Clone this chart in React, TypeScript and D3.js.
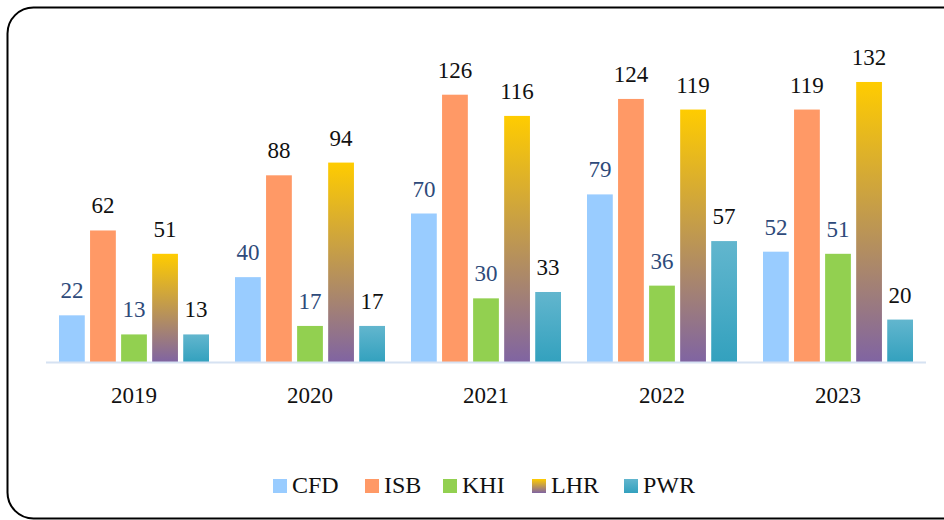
import React from "react";
import * as d3 from "d3";

const years = ["2019", "2020", "2021", "2022", "2023"];
const seriesNames = ["CFD", "ISB", "KHI", "LHR", "PWR"];
const cfd = [22, 40, 70, 79, 52];
const isb = [62, 88, 126, 124, 119];
const khi = [13, 17, 30, 36, 51];
const lhr = [51, 94, 116, 119, 132];
const pwr = [13, 17, 33, 57, 20];

const W = 944;
const H = 520;
const FONT = "Liberation Serif";

export default function App() {
  const values = [cfd, isb, khi, lhr, pwr];
  const fills = ["#99CCFF", "#FF9966", "#92D050", "url(#gLHR)", "url(#gPWR)"];
  const labelColors = ["#2E4A7A", "#111", "#2E4A7A", "#111", "#111"];
  const x0 = d3.scaleBand().domain(years).range([46, 926]).paddingInner(0).paddingOuter(0);
  const x1 = d3.scaleBand().domain(seriesNames).range([13, 176 - 13]).paddingInner(0.17).paddingOuter(0);
  const y = d3.scaleLinear().domain([0, 140]).range([362, 65]);
  const legendX = [273, 365, 443, 532, 624];

  return (
    <svg width={W} height={H} style={{ position: "absolute", left: 0, top: 0 }}>
      <defs>
        <linearGradient id="gLHR" x1="0" y1="0" x2="0" y2="1">
          <stop offset="0" stopColor="#FFCC00" />
          <stop offset="0.5" stopColor="#BF9850" />
          <stop offset="1" stopColor="#8064A2" />
        </linearGradient>
        <linearGradient id="gPWR" x1="0" y1="0" x2="0" y2="1">
          <stop offset="0" stopColor="#62B6CE" />
          <stop offset="1" stopColor="#33A1BE" />
        </linearGradient>
        <linearGradient id="gLHRleg" x1="0" y1="0" x2="0" y2="1">
          <stop offset="0" stopColor="#FFCC00" />
          <stop offset="1" stopColor="#8064A2" />
        </linearGradient>
      </defs>
      <rect x={0} y={0} width={W} height={H} fill="#fff" />
      <rect x={7.5} y={7.5} width={W + 20} height={511} rx={26} ry={26} fill="none" stroke="#000" strokeWidth={2} />
      {years.map((yr, i) => (
        <g key={yr} transform={`translate(${x0(yr)},0)`}>
          {seriesNames.map((s, j) => {
            const v = values[j][i];
            const bx = x1(s)!;
            const bw = x1.bandwidth();
            return (
              <g key={s}>
                <rect x={bx} y={y(v)} width={bw} height={y(0) - y(v)} fill={fills[j]} />
                <text
                  x={bx + bw / 2}
                  y={y(v) - 17}
                  textAnchor="middle"
                  fontFamily={FONT}
                  fontSize={23}
                  fill={labelColors[j]}
                >
                  {v}
                </text>
              </g>
            );
          })}
          <text x={88} y={403} textAnchor="middle" fontFamily={FONT} fontSize={23} fill="#111">
            {yr}
          </text>
        </g>
      ))}
      <line x1={46} x2={926} y1={362.5} y2={362.5} stroke="#D6E2F2" strokeWidth={2} />
      {seriesNames.map((s, j) => (
        <g key={s}>
          <rect x={legendX[j]} y={479} width={14} height={14} fill={j === 3 ? "url(#gLHRleg)" : fills[j]} />
          <text x={legendX[j] + 19} y={493} fontFamily={FONT} fontSize={24} fill="#111">
            {s}
          </text>
        </g>
      ))}
    </svg>
  );
}
